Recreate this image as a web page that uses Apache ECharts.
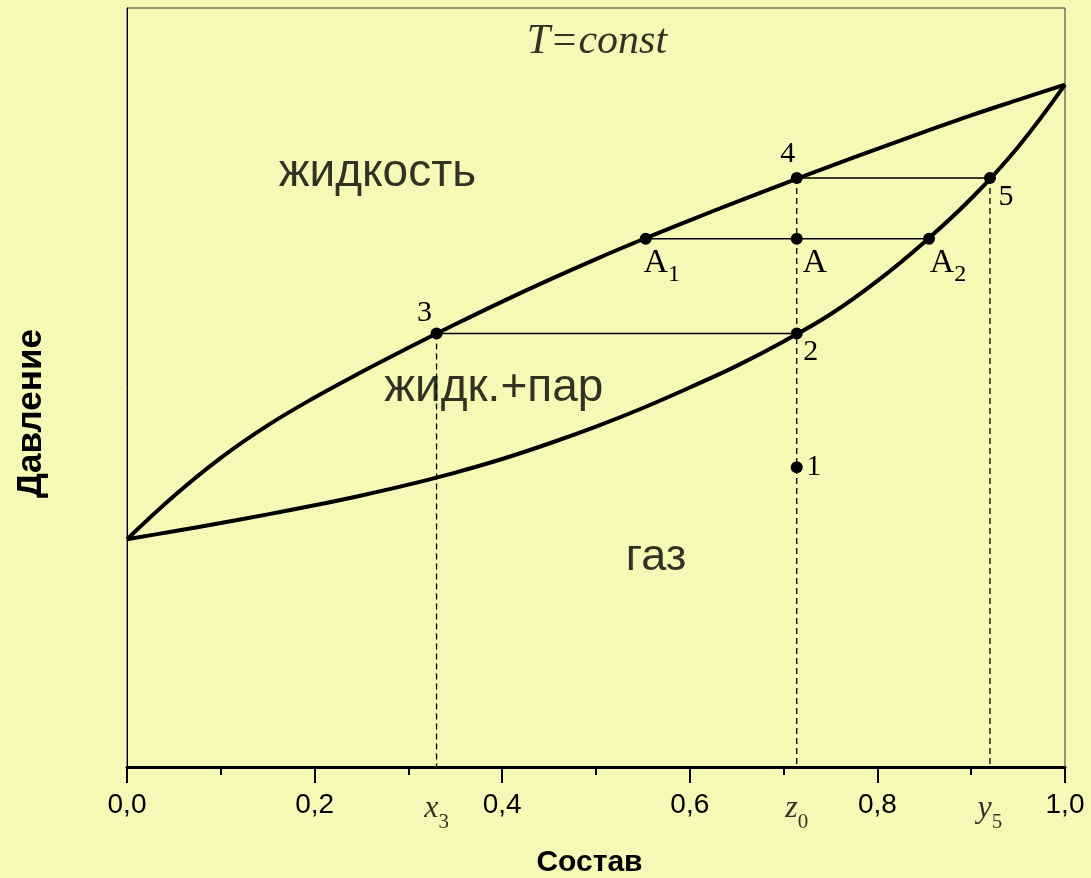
<!DOCTYPE html>
<html>
<head>
<meta charset="utf-8">
<script src="https://cdn.jsdelivr.net/npm/echarts@6/dist/echarts.min.js"></script>
<style>
html,body{margin:0;padding:0;background:#F8F8B6;}
#chart{width:1091px;height:878px;}
</style>
</head>
<body>
<div id="chart"></div>
<script>
// Composition grid shared by both curves
const compX = [0, 0.05, 0.10, 0.15, 0.20, 0.25, 0.30, 0.35, 0.40, 0.45, 0.50, 0.55, 0.60, 0.65, 0.70, 0.75, 0.80, 0.85, 0.90, 0.95, 1.0];
// Liquid (upper) curve: pressure (relative units)
const liquidP = [0.300, 0.357, 0.4073, 0.4501, 0.4868, 0.5203, 0.5523, 0.5833, 0.6132, 0.6418, 0.6692, 0.6953, 0.7203, 0.7446, 0.7684, 0.7917, 0.8145, 0.8368, 0.8586, 0.879, 0.899];
// Vapor (lower) curve
const vaporP = [0.300, 0.3106, 0.3215, 0.3328, 0.3448, 0.3578, 0.3720, 0.3879, 0.4058, 0.4262, 0.4485, 0.4730, 0.5000, 0.5285, 0.5607, 0.5965, 0.6405, 0.6915, 0.7490, 0.8170, 0.8990];

// Special compositions
const x3 = 0.330, z0 = 0.714, y5 = 0.920, xA1 = 0.553, xA2 = 0.855;
// Pressures of tie lines / points
const p4 = 0.776, pA = 0.696, p3 = 0.571, p1 = 0.395;

const pointNames = ['4', '5', 'A1', 'A', 'A2', '3', '2', '1'];
const pointX = [z0, y5, xA1, z0, xA2, x3, z0, z0];
const pointP = [p4, p4, pA, pA, pA, p3, p3, p1];

const tickLabels = ['0,0', '0,2', '0,4', '0,6', '0,8', '1,0'];
const regionTexts = ['жидкость', 'жидк.+пар', 'газ', 'T=const'];
const regionX = [0.267, 0.391, 0.564, 0.501];
const regionP = [0.782, 0.4993, 0.2754, 0.955];

const axisMarkNames = ['x3', 'z0', 'y5'];
const axisMarkX = [x3, z0, y5];

// presentation (label offsets, rich text) kept separate from data
const pointLabelStyle = {
  '4':  {text: '4', offset: [-9, -24]},
  '5':  {text: '5', offset: [16, 19]},
  'A1': {text: '{m|A}{s|1}', offset: [16, 24]},
  'A':  {text: '{m|A}', offset: [18, 24]},
  'A2': {text: '{m|A}{s|2}', offset: [19, 24]},
  '3':  {text: '3', offset: [-12, -20]},
  '2':  {text: '2', offset: [14, 19]},
  '1':  {text: '1', offset: [17, 0]}
};
const serif = "'Liberation Serif','Times New Roman',serif";
const sans = "'Liberation Sans',Arial,sans-serif";

const chart = echarts.init(document.getElementById('chart'));

function pairs(xs, ys) { return xs.map((x, i) => [x, ys[i]]); }
const lineBlack = (w) => ({color: '#000', width: w});
const dashed = {color: '#000', width: 1.3, type: [6, 4]};

const series = [
  {type: 'line', data: pairs(compX, liquidP), smooth: 0.4, symbol: 'none', lineStyle: lineBlack(4), z: 5},
  {type: 'line', data: pairs(compX, vaporP), smooth: 0.4, symbol: 'none', lineStyle: lineBlack(4), z: 5},
  // tie lines
  {type: 'line', data: [[x3, p3], [z0, p3]], symbol: 'none', lineStyle: lineBlack(1.5)},
  {type: 'line', data: [[xA1, pA], [xA2, pA]], symbol: 'none', lineStyle: lineBlack(1.5)},
  {type: 'line', data: [[z0, p4], [y5, p4]], symbol: 'none', lineStyle: lineBlack(1.5)},
  // dashed verticals
  {type: 'line', data: [[x3, p3], [x3, 0]], symbol: 'none', lineStyle: dashed},
  {type: 'line', data: [[z0, p4], [z0, 0]], symbol: 'none', lineStyle: dashed},
  {type: 'line', data: [[y5, p4], [y5, 0]], symbol: 'none', lineStyle: dashed},
  // points
  {
    type: 'scatter', symbolSize: 12, itemStyle: {color: '#000', opacity: 1}, z: 10,
    data: pointNames.map((n, i) => ({
      value: [pointX[i], pointP[i]],
      label: {
        show: true, position: 'inside', formatter: pointLabelStyle[n].text,
        offset: pointLabelStyle[n].offset, color: '#000',
        fontFamily: serif, fontSize: 30,
        rich: {
          m: {fontFamily: serif, fontSize: 34, color: '#000'},
          s: {fontFamily: serif, fontSize: 24, color: '#000', padding: [24, 0, 0, 0]}
        }
      }
    }))
  },
  // region texts
  {
    type: 'scatter', symbolSize: 0, z: 11, silent: true,
    data: regionTexts.map((t, i) => ({
      value: [regionX[i], regionP[i]],
      label: t === 'T=const' ? {
        show: true, position: 'inside', formatter: t, color: '#000',
        fontFamily: serif, fontStyle: 'italic', fontSize: 42
      } : {
        show: true, position: 'inside', formatter: t, color: '#000',
        fontFamily: sans, fontSize: t === 'газ' ? 45 : 46
      }
    }))
  },
  // axis special labels
  {
    type: 'scatter', symbolSize: 0, z: 11, silent: true, clip: false,
    data: axisMarkNames.map((n, i) => ({
      value: [axisMarkX[i], 0],
      label: {
        show: true, position: 'inside', offset: [0, 42],
        formatter: '{v|' + n[0] + '}{s|' + n.slice(1) + '}',
        rich: {
          v: {fontFamily: serif, fontStyle: 'italic', fontSize: 32, color: '#000'},
          s: {fontFamily: serif, fontSize: 21, color: '#000', padding: [26, 0, 0, 0]}
        }
      }
    }))
  }
];

chart.setOption({
  backgroundColor: '#F8F8B6',
  animation: false,
  grid: {left: 127, right: 26, top: 8, bottom: 111, show: true, borderColor: '#333', borderWidth: 1,
         backgroundColor: 'transparent', outerBoundsMode: 'none', containLabel: false},
  xAxis: {
    type: 'value', min: 0, max: 1, interval: 0.2,
    axisLine: {show: true, onZero: false, lineStyle: {color: '#000', width: 3}},
    axisTick: {show: true, length: 16, lineStyle: {color: '#000', width: 2}},
    minorTick: {show: true, splitNumber: 2, length: 8, lineStyle: {color: '#000', width: 2}},
    splitLine: {show: false},
    axisLabel: {
      margin: 24, color: '#000', fontFamily: sans, fontSize: 28,
      formatter: (v) => tickLabels[Math.round(v / 0.2)]
    },
    name: 'Состав', nameLocation: 'middle', nameGap: 81,
    nameTextStyle: {fontFamily: sans, fontWeight: 'bold', fontSize: 30, color: '#000', padding: [0, 13, 0, 0]}
  },
  yAxis: {
    type: 'value', min: 0, max: 1,
    axisLine: {show: true, lineStyle: {color: '#000', width: 1}},
    axisTick: {show: false}, axisLabel: {show: false}, splitLine: {show: false},
    name: 'Давление', nameLocation: 'middle', nameGap: 78, nameRotate: 90,
    nameTextStyle: {fontFamily: sans, fontWeight: 'bold', fontSize: 35, color: '#000', padding: [0, 52, 0, 0]}
  },
  series: series
});
</script>
</body>
</html>
